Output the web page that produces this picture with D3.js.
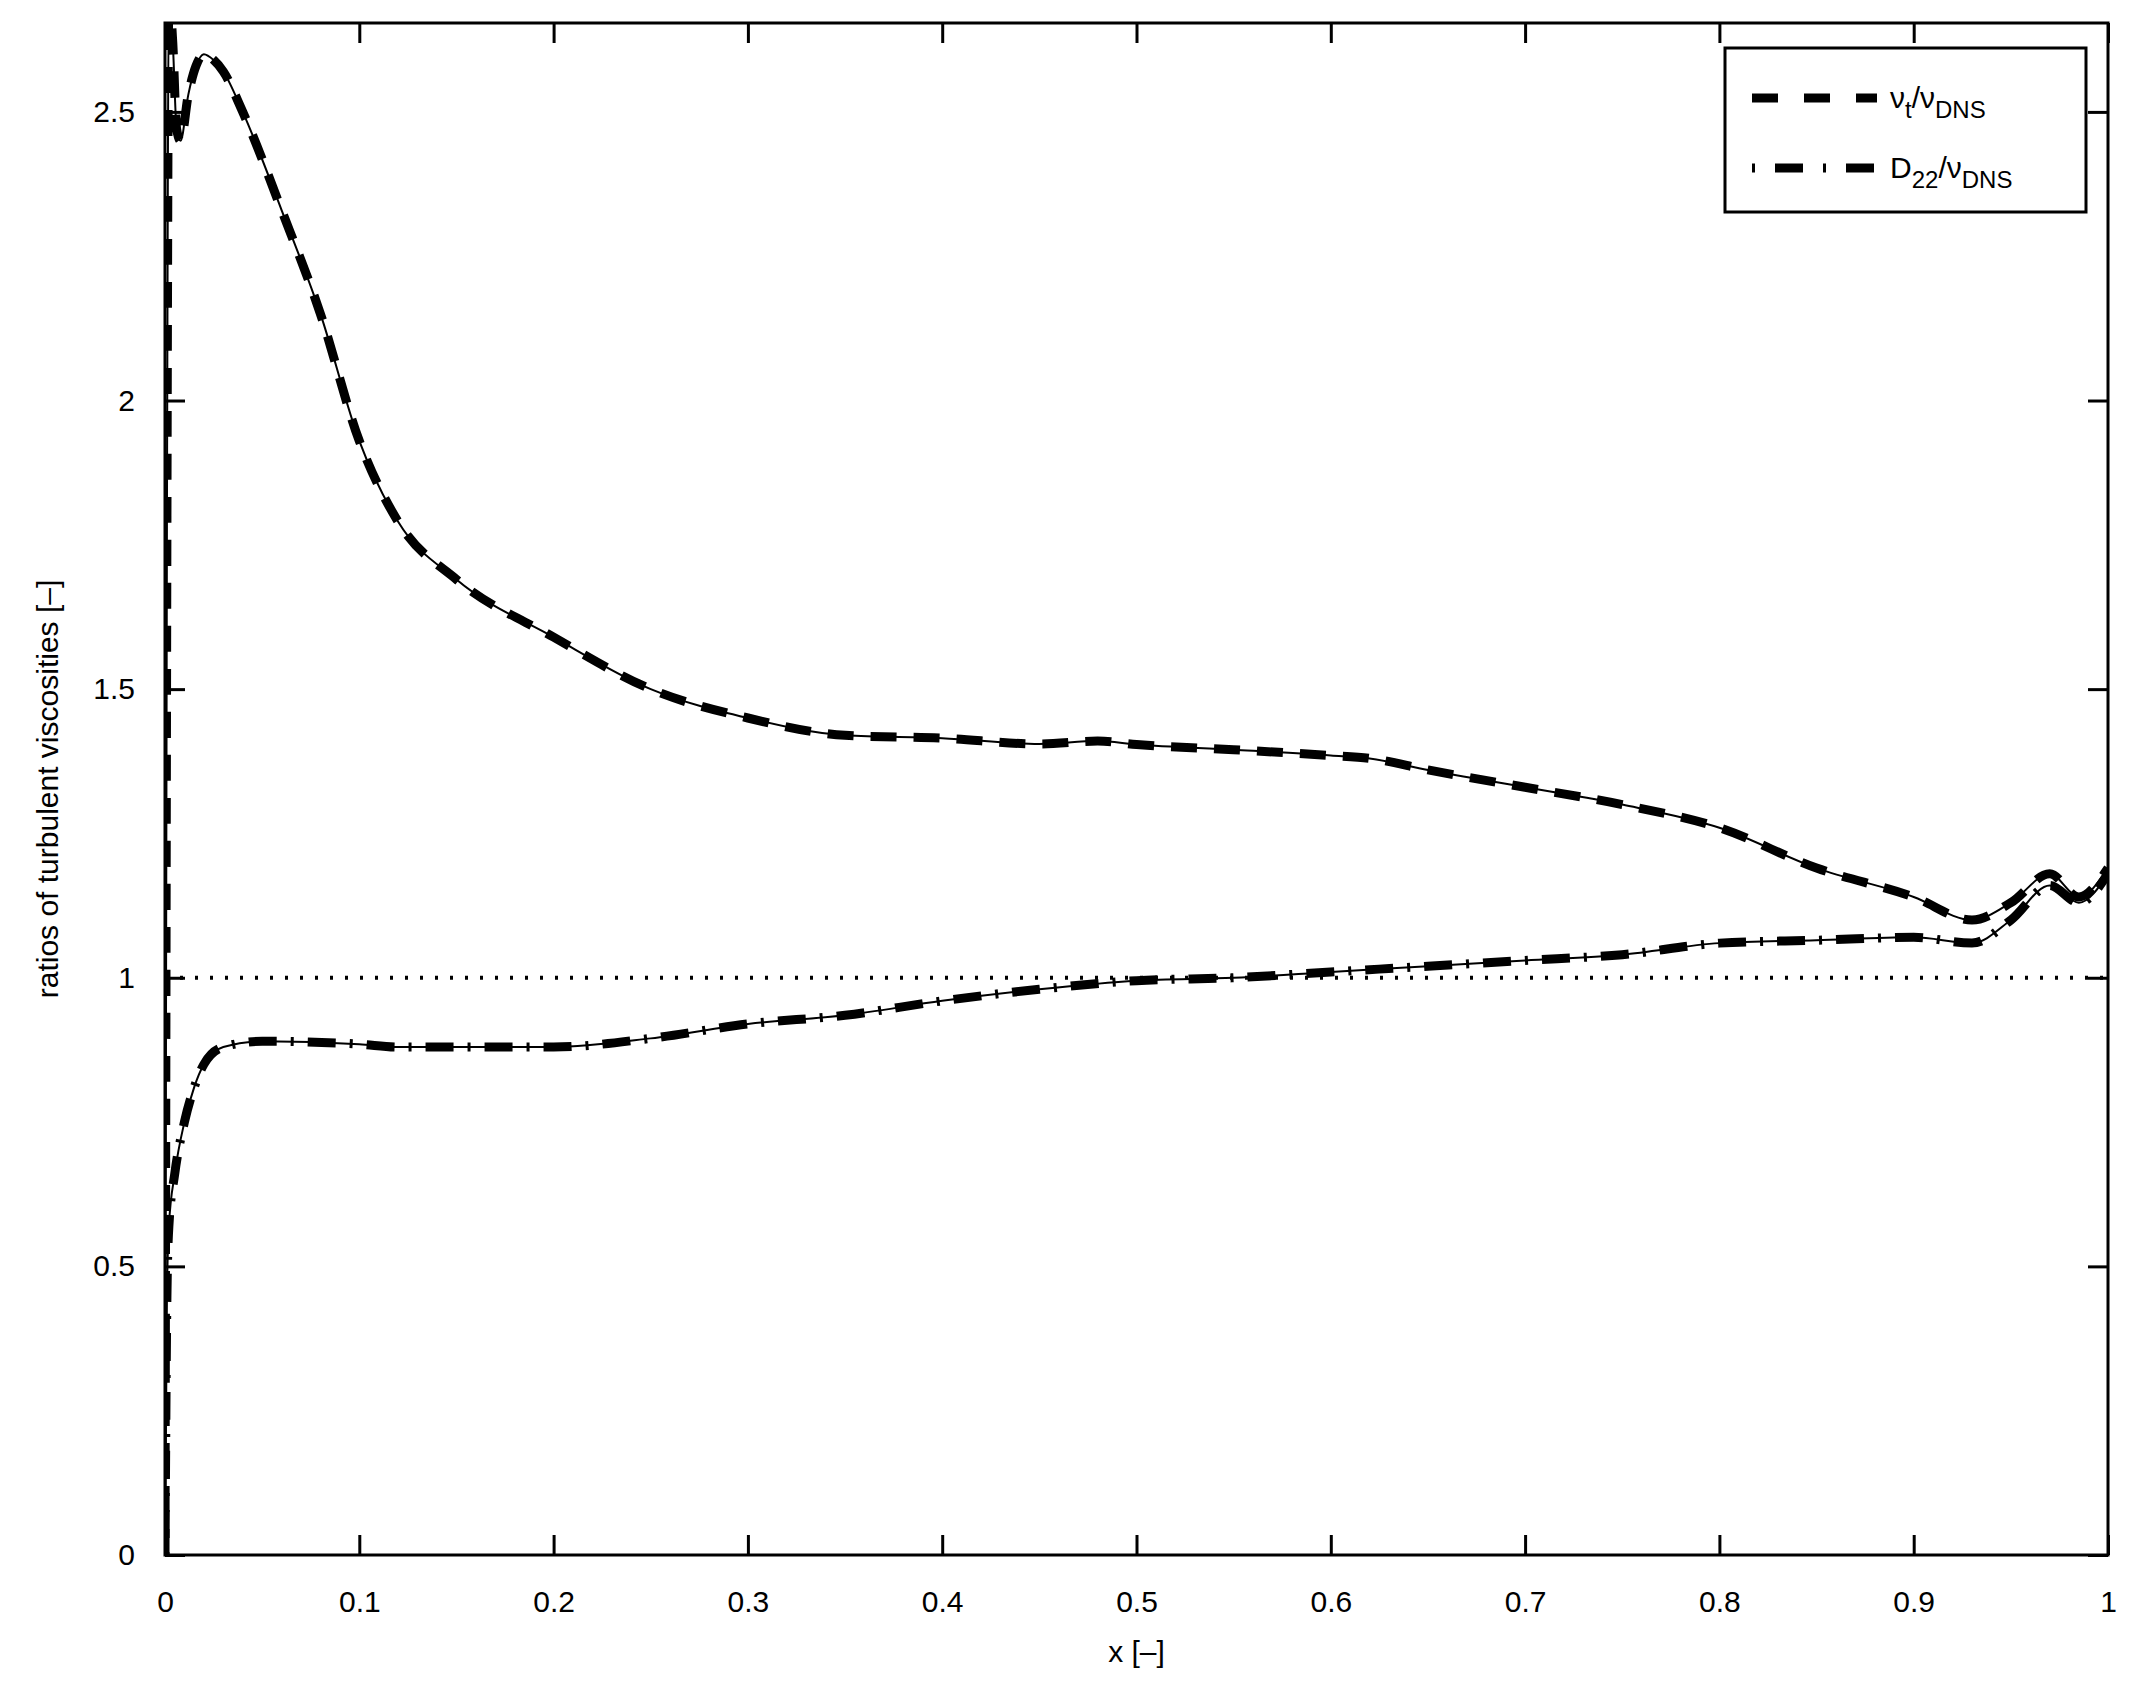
<!DOCTYPE html>
<html><head><meta charset="utf-8">
<script src="https://cdn.jsdelivr.net/npm/d3@7"></script>
<style>body{margin:0;background:#fff}text{font-family:"Liberation Sans",Arial,sans-serif;}</style>
</head><body><svg id="c" width="2142" height="1695"></svg>
<script>
const xTicks=[0,0.1,0.2,0.3,0.4,0.5,0.6,0.7,0.8,0.9,1];
const yTicks=[0,0.5,1,1.5,2,2.5];
const nutX=[0,0.001,0.002,0.004,0.006,0.008,0.012,0.016,0.02,0.025,0.03,0.04,0.06,0.08,0.1,0.12,0.15,0.2,0.25,0.3,0.35,0.4,0.45,0.48,0.5,0.55,0.6,0.62,0.65,0.7,0.75,0.8,0.85,0.9,0.93,0.95,0.97,0.985,1.0];
const nutY=[0,1.8,2.7,2.62,2.47,2.45,2.53,2.58,2.6,2.59,2.57,2.5,2.33,2.15,1.93,1.79,1.69,1.59,1.5,1.45,1.42,1.415,1.405,1.41,1.404,1.395,1.385,1.38,1.36,1.33,1.30,1.26,1.19,1.14,1.10,1.13,1.18,1.14,1.19];
const d22X=[0,0.001,0.002,0.005,0.01,0.015,0.02,0.03,0.05,0.1,0.12,0.2,0.25,0.3,0.35,0.4,0.45,0.5,0.55,0.6,0.65,0.7,0.75,0.8,0.85,0.9,0.93,0.95,0.97,0.985,1.0];
const d22Y=[0,0.45,0.57,0.66,0.75,0.81,0.85,0.88,0.89,0.885,0.88,0.88,0.895,0.92,0.935,0.96,0.98,0.995,1.0,1.01,1.02,1.03,1.04,1.06,1.065,1.07,1.06,1.1,1.16,1.13,1.18];
const refX=[0,1], refY=[1,1];

const svg=d3.select("#c");
const L=165,R=2108,T=23,B=1555;
const x=d3.scaleLinear().domain([0,1]).range([L,R]);
const y=d3.scaleLinear().domain([0,2.654]).range([B,T]);
const g=svg.append("g");
const clip=svg.append("clipPath").attr("id","cl").append("rect").attr("x",L).attr("y",T).attr("width",R-L).attr("height",B-T);
const plot=g.append("g").attr("clip-path","url(#cl)");
const line=d3.line().x(d=>x(d[0])).y(d=>y(d[1])).curve(d3.curveMonotoneX);
const nut=nutX.map((v,i)=>[v,nutY[i]]), d22=d22X.map((v,i)=>[v,d22Y[i]]);
plot.append("path").attr("d",line(refX.map((v,i)=>[v,refY[i]]))).attr("fill","none").attr("stroke","#000").attr("stroke-width",4).attr("stroke-dasharray","3 12");
plot.append("path").attr("d",line(nut)).attr("fill","none").attr("stroke","#000").attr("stroke-width",9).attr("stroke-dasharray","26 17");
plot.append("path").attr("d",line(d22)).attr("fill","none").attr("stroke","#000").attr("stroke-width",9).attr("stroke-dasharray","3 14 28 14");
plot.append("path").attr("d",line(nut)).attr("fill","none").attr("stroke","#000").attr("stroke-width",2);
plot.append("path").attr("d",line(d22)).attr("fill","none").attr("stroke","#000").attr("stroke-width",2);
// frame
g.append("rect").attr("x",L).attr("y",T).attr("width",R-L).attr("height",B-T).attr("fill","none").attr("stroke","#000").attr("stroke-width",3);
const ax=g.append("g").attr("transform",`translate(0,${B})`).call(d3.axisBottom(x).tickValues(xTicks).tickFormat(d3.format("")).tickSizeInner(-20).tickSizeOuter(0).tickPadding(30));
const ax2=g.append("g").attr("transform",`translate(0,${T})`).call(d3.axisTop(x).tickValues(xTicks).tickFormat("").tickSizeInner(-20).tickSizeOuter(0));
const ay=g.append("g").attr("transform",`translate(${L},0)`).call(d3.axisLeft(y).tickValues(yTicks).tickFormat(d3.format("")).tickSizeInner(-20).tickSizeOuter(0).tickPadding(30));
const ay2=g.append("g").attr("transform",`translate(${R},0)`).call(d3.axisRight(y).tickValues(yTicks).tickFormat("").tickSizeInner(-20).tickSizeOuter(0));
[ax,ax2,ay,ay2].forEach(a=>{a.select(".domain").remove();a.selectAll("line").attr("stroke-width",3);a.selectAll("text").attr("font-size",30).attr("fill","#000").attr("font-family","Liberation Sans, Arial, sans-serif");});
ax.selectAll("text").attr("dy","0.9em");
g.append("text").attr("x",(L+R)/2).attr("y",1662).attr("text-anchor","middle").attr("font-size",30).text("x [–]");
g.append("text").attr("transform",`translate(58,${(T+B)/2}) rotate(-90)`).attr("text-anchor","middle").attr("font-size",30).text("ratios of turbulent viscosities [–]");
// legend
const lg=g.append("g");
lg.append("rect").attr("x",1725).attr("y",48).attr("width",361).attr("height",164).attr("fill","#fff").attr("stroke","#000").attr("stroke-width",3);
lg.append("line").attr("x1",1752).attr("x2",1877).attr("y1",98).attr("y2",98).attr("stroke","#000").attr("stroke-width",9).attr("stroke-dasharray","26 26");
lg.append("line").attr("x1",1752).attr("x2",1877).attr("y1",168).attr("y2",168).attr("stroke","#000").attr("stroke-width",9).attr("stroke-dasharray","3 20 28 20");
const t1=lg.append("text").attr("x",1890).attr("y",108).attr("font-size",30);
t1.append("tspan").text("ν");t1.append("tspan").attr("font-size",24).attr("dy",10).text("t");t1.append("tspan").attr("dy",-10).text("/ν");t1.append("tspan").attr("font-size",24).attr("dy",10).text("DNS");
const t2=lg.append("text").attr("x",1890).attr("y",178).attr("font-size",30);
t2.append("tspan").text("D");t2.append("tspan").attr("font-size",24).attr("dy",10).text("22");t2.append("tspan").attr("dy",-10).text("/ν");t2.append("tspan").attr("font-size",24).attr("dy",10).text("DNS");
</script></body></html>
